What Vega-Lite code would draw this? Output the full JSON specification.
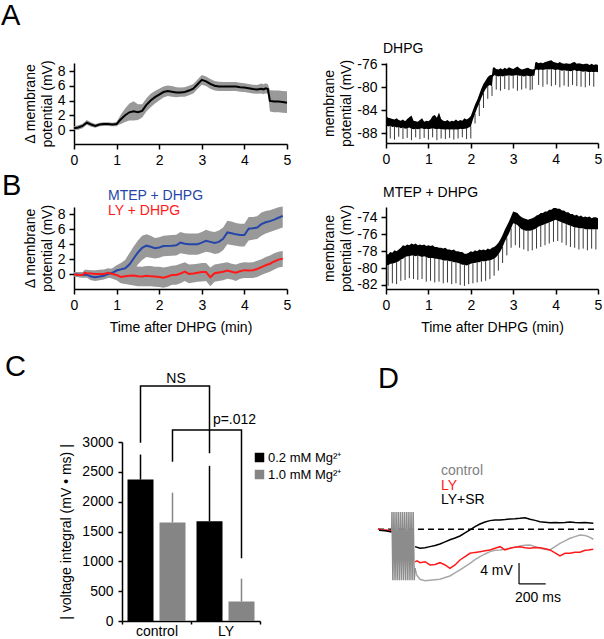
{
  "$schema": "https://vega.github.io/schema/vega-lite/v6.json",
  "autosize": {"type": "none"},
  "padding": {"left": 74, "top": 63, "right": 530, "bottom": 576},
  "background": "white",
  "config": {
    "font": "Liberation Sans",
    "view": {"stroke": null},
    "axis": {"domainColor": "#000", "domainWidth": 1.5, "tickColor": "#000", "tickWidth": 1.5, "tickSize": 5, "labelColor": "#000", "labelFontSize": 14, "labelPadding": 4, "labelFlush": false, "labelOverlap": false, "labelSeparation": 0, "titleColor": "#000", "titleFontSize": 14, "titleFontWeight": "normal", "grid": false, "titleLineHeight": 17},
    "axisY": {"labelOverlap": false},
    "axisQuantitative": {"labelOverlap": false},
    "title": {"fontWeight": "normal", "color": "#000", "anchor": "start", "frame": "group", "offset": 0, "baseline": "alphabetic", "fontSize": 29},
    "legend": {"labelFontSize": 14, "padding": 0}
  },
  "columns": 2,
  "align": "each",
  "bounds": "flush",
  "spacing": {"row": 63, "column": 99},
  "resolve": {"scale": {"color": "independent"}, "legend": {"color": "independent"}},
  "datasets": {
    "aMean": [
      {"t":0,"m":0.25,"lo":0.0,"hi":0.5},{"t":0.1,"m":0.35,"lo":0.05,"hi":0.65},{"t":0.2,"m":0.55,"lo":0.25,"hi":0.85},{"t":0.3,"m":1.0,"lo":0.7,"hi":1.35},{"t":0.4,"m":0.75,"lo":0.45,"hi":1.05},{"t":0.5,"m":0.55,"lo":0.3,"hi":0.8},{"t":0.6,"m":0.75,"lo":0.5,"hi":1.0},{"t":0.7,"m":0.8,"lo":0.55,"hi":1.05},{"t":0.8,"m":0.8,"lo":0.55,"hi":1.05},{"t":0.9,"m":0.75,"lo":0.5,"hi":1.0},{"t":1.0,"m":0.8,"lo":0.5,"hi":1.1},{"t":1.05,"m":1.15,"lo":0.7,"hi":1.6},{"t":1.1,"m":1.45,"lo":0.8,"hi":2.1},{"t":1.2,"m":2.0,"lo":1.1,"hi":2.9},{"t":1.3,"m":2.4,"lo":1.3,"hi":3.6},{"t":1.4,"m":2.55,"lo":1.3,"hi":3.9},{"t":1.5,"m":2.4,"lo":1.35,"hi":3.5},{"t":1.6,"m":2.6,"lo":1.7,"hi":3.5},{"t":1.7,"m":3.4,"lo":2.5,"hi":4.3},{"t":1.8,"m":4.0,"lo":3.1,"hi":4.9},{"t":1.9,"m":4.45,"lo":3.6,"hi":5.3},{"t":2.0,"m":4.8,"lo":4.0,"hi":5.6},{"t":2.1,"m":5.15,"lo":4.4,"hi":5.9},{"t":2.2,"m":5.3,"lo":4.6,"hi":6.05},{"t":2.3,"m":5.2,"lo":4.5,"hi":5.95},{"t":2.4,"m":5.1,"lo":4.45,"hi":5.8},{"t":2.5,"m":5.1,"lo":4.5,"hi":5.75},{"t":2.6,"m":5.15,"lo":4.5,"hi":5.8},{"t":2.7,"m":5.35,"lo":4.7,"hi":6.0},{"t":2.8,"m":5.6,"lo":4.95,"hi":6.25},{"t":2.9,"m":6.2,"lo":5.55,"hi":6.85},{"t":3.0,"m":6.8,"lo":6.15,"hi":7.45},{"t":3.1,"m":6.6,"lo":5.95,"hi":7.25},{"t":3.2,"m":6.25,"lo":5.6,"hi":6.9},{"t":3.3,"m":6.0,"lo":5.35,"hi":6.65},{"t":3.4,"m":5.9,"lo":5.3,"hi":6.55},{"t":3.5,"m":5.9,"lo":5.3,"hi":6.5},{"t":3.6,"m":5.9,"lo":5.3,"hi":6.5},{"t":3.7,"m":5.9,"lo":5.3,"hi":6.5},{"t":3.8,"m":5.9,"lo":5.3,"hi":6.5},{"t":3.9,"m":5.8,"lo":5.2,"hi":6.4},{"t":4.0,"m":5.75,"lo":5.15,"hi":6.35},{"t":4.1,"m":5.65,"lo":5.05,"hi":6.25},{"t":4.2,"m":5.55,"lo":4.95,"hi":6.15},{"t":4.3,"m":5.5,"lo":4.9,"hi":6.1},{"t":4.4,"m":5.6,"lo":4.95,"hi":6.3},{"t":4.45,"m":5.5,"lo":4.85,"hi":6.2},{"t":4.5,"m":5.65,"lo":5.0,"hi":6.35},{"t":4.55,"m":5.55,"lo":4.9,"hi":6.2},{"t":4.6,"m":3.95,"lo":2.5,"hi":5.4},{"t":4.7,"m":3.85,"lo":2.4,"hi":5.35},{"t":4.8,"m":3.85,"lo":2.4,"hi":5.35},{"t":4.9,"m":3.8,"lo":2.35,"hi":5.3},{"t":5.0,"m":3.7,"lo":2.3,"hi":5.25}
    ],
    "aTrace": [
      {"t":0,"lo":-86.6,"hi":-85.0},{"t":0.05,"lo":-86.8,"hi":-85.3},{"t":0.1,"lo":-86.7,"hi":-85.4},{"t":0.15,"lo":-86.9,"hi":-85.5},{"t":0.2,"lo":-86.8,"hi":-85.6},{"t":0.25,"lo":-87.0,"hi":-85.4},{"t":0.3,"lo":-86.9,"hi":-85.7},{"t":0.35,"lo":-87.1,"hi":-85.8},{"t":0.4,"lo":-87.0,"hi":-85.6},{"t":0.45,"lo":-87.2,"hi":-85.9},{"t":0.5,"lo":-87.1,"hi":-85.5},{"t":0.55,"lo":-87.0,"hi":-85.2},{"t":0.6,"lo":-87.2,"hi":-84.9},{"t":0.65,"lo":-87.3,"hi":-85.8},{"t":0.7,"lo":-87.2,"hi":-85.9},{"t":0.75,"lo":-87.3,"hi":-86.0},{"t":0.8,"lo":-87.2,"hi":-85.7},{"t":0.85,"lo":-87.1,"hi":-85.4},{"t":0.9,"lo":-87.3,"hi":-86.0},{"t":0.95,"lo":-87.2,"hi":-85.8},{"t":1.0,"lo":-87.3,"hi":-85.9},{"t":1.05,"lo":-87.2,"hi":-85.6},{"t":1.1,"lo":-87.1,"hi":-85.0},{"t":1.15,"lo":-87.2,"hi":-84.8},{"t":1.2,"lo":-87.3,"hi":-85.3},{"t":1.25,"lo":-87.2,"hi":-84.4},{"t":1.3,"lo":-87.3,"hi":-85.5},{"t":1.35,"lo":-87.3,"hi":-85.8},{"t":1.4,"lo":-87.4,"hi":-85.9},{"t":1.45,"lo":-87.3,"hi":-85.7},{"t":1.5,"lo":-87.4,"hi":-86.0},{"t":1.55,"lo":-87.3,"hi":-85.8},{"t":1.6,"lo":-87.4,"hi":-85.9},{"t":1.65,"lo":-87.3,"hi":-85.6},{"t":1.7,"lo":-87.4,"hi":-85.9},{"t":1.75,"lo":-87.2,"hi":-85.7},{"t":1.8,"lo":-87.3,"hi":-85.8},{"t":1.85,"lo":-87.2,"hi":-85.4},{"t":1.9,"lo":-87.2,"hi":-85.6},{"t":1.95,"lo":-87.0,"hi":-85.4},{"t":2.0,"lo":-86.8,"hi":-85.0},{"t":2.05,"lo":-85.6,"hi":-84.0},{"t":2.1,"lo":-84.6,"hi":-83.0},{"t":2.15,"lo":-83.6,"hi":-82.2},{"t":2.2,"lo":-82.8,"hi":-81.2},{"t":2.25,"lo":-81.8,"hi":-80.2},{"t":2.3,"lo":-81.0,"hi":-79.4},{"t":2.35,"lo":-80.3,"hi":-78.8},{"t":2.4,"lo":-79.8,"hi":-78.2},{"t":2.45,"lo":-79.6,"hi":-77.9},{"t":2.5,"lo":-79.8,"hi":-77.8},{"t":2.52,"lo":-78.2,"hi":-76.6},{"t":2.55,"lo":-77.9,"hi":-76.5},{"t":2.6,"lo":-78.0,"hi":-76.8},{"t":2.65,"lo":-78.1,"hi":-76.9},{"t":2.7,"lo":-78.0,"hi":-76.7},{"t":2.75,"lo":-78.1,"hi":-76.9},{"t":2.8,"lo":-78.0,"hi":-76.6},{"t":2.85,"lo":-78.0,"hi":-76.8},{"t":2.9,"lo":-77.9,"hi":-76.5},{"t":2.95,"lo":-78.0,"hi":-76.7},{"t":3.0,"lo":-78.0,"hi":-76.8},{"t":3.05,"lo":-77.9,"hi":-76.6},{"t":3.1,"lo":-77.9,"hi":-76.4},{"t":3.15,"lo":-78.0,"hi":-76.7},{"t":3.2,"lo":-78.0,"hi":-76.9},{"t":3.25,"lo":-78.1,"hi":-76.8},{"t":3.3,"lo":-78.0,"hi":-76.7},{"t":3.35,"lo":-78.0,"hi":-76.6},{"t":3.4,"lo":-78.1,"hi":-76.8},{"t":3.45,"lo":-78.0,"hi":-76.9},{"t":3.5,"lo":-78.0,"hi":-76.8},{"t":3.52,"lo":-77.0,"hi":-75.7},{"t":3.55,"lo":-76.9,"hi":-75.6},{"t":3.6,"lo":-77.0,"hi":-75.8},{"t":3.65,"lo":-76.9,"hi":-75.7},{"t":3.7,"lo":-77.0,"hi":-75.8},{"t":3.75,"lo":-76.9,"hi":-75.6},{"t":3.8,"lo":-76.8,"hi":-75.5},{"t":3.85,"lo":-76.9,"hi":-75.4},{"t":3.9,"lo":-76.8,"hi":-75.3},{"t":3.95,"lo":-76.9,"hi":-75.6},{"t":4.0,"lo":-77.0,"hi":-75.7},{"t":4.05,"lo":-76.9,"hi":-75.8},{"t":4.1,"lo":-77.0,"hi":-75.6},{"t":4.15,"lo":-77.1,"hi":-75.8},{"t":4.2,"lo":-77.0,"hi":-75.9},{"t":4.25,"lo":-77.1,"hi":-75.8},{"t":4.3,"lo":-77.1,"hi":-75.9},{"t":4.35,"lo":-77.2,"hi":-75.9},{"t":4.4,"lo":-77.1,"hi":-75.7},{"t":4.45,"lo":-77.0,"hi":-75.6},{"t":4.5,"lo":-77.2,"hi":-75.9},{"t":4.55,"lo":-77.1,"hi":-75.8},{"t":4.6,"lo":-77.2,"hi":-75.9},{"t":4.65,"lo":-77.3,"hi":-76.0},{"t":4.7,"lo":-77.2,"hi":-75.9},{"t":4.75,"lo":-77.3,"hi":-75.9},{"t":4.8,"lo":-77.4,"hi":-76.1},{"t":4.85,"lo":-77.3,"hi":-75.9},{"t":4.9,"lo":-77.4,"hi":-76.1},{"t":4.95,"lo":-77.3,"hi":-76.0},{"t":5.0,"lo":-77.4,"hi":-76.1}
    ],
    "aSpikes": [
      {"t":0.1,"top":-86.7,"bot":-88.9},{"t":0.2,"top":-86.8,"bot":-89.1},{"t":0.3,"top":-86.9,"bot":-88.6},{"t":0.4,"top":-87.0,"bot":-89.0},{"t":0.5,"top":-87.1,"bot":-88.8},{"t":0.6,"top":-87.2,"bot":-89.2},{"t":0.7,"top":-87.2,"bot":-88.7},{"t":0.8,"top":-87.2,"bot":-89.0},{"t":0.9,"top":-87.3,"bot":-88.8},{"t":1.0,"top":-87.3,"bot":-89.1},{"t":1.1,"top":-87.1,"bot":-88.7},{"t":1.2,"top":-87.3,"bot":-89.2},{"t":1.3,"top":-87.3,"bot":-88.9},{"t":1.4,"top":-87.4,"bot":-89.0},{"t":1.5,"top":-87.4,"bot":-88.8},{"t":1.6,"top":-87.4,"bot":-89.1},{"t":1.7,"top":-87.4,"bot":-88.9},{"t":1.8,"top":-87.3,"bot":-88.7},{"t":1.9,"top":-87.2,"bot":-89.0},{"t":2.0,"top":-86.8,"bot":-88.9},{"t":2.1,"top":-84.6,"bot":-86.3},{"t":2.2,"top":-82.8,"bot":-85.0},{"t":2.3,"top":-81.0,"bot":-83.6},{"t":2.4,"top":-79.8,"bot":-82.0},{"t":2.5,"top":-79.8,"bot":-81.5},{"t":2.6,"top":-78.0,"bot":-80.4},{"t":2.7,"top":-78.0,"bot":-80.6},{"t":2.8,"top":-78.0,"bot":-80.3},{"t":2.9,"top":-77.9,"bot":-80.5},{"t":3.0,"top":-78.0,"bot":-80.2},{"t":3.1,"top":-77.9,"bot":-80.6},{"t":3.2,"top":-78.0,"bot":-80.4},{"t":3.3,"top":-78.0,"bot":-80.2},{"t":3.4,"top":-78.1,"bot":-80.5},{"t":3.45,"top":-78.0,"bot":-80.4},{"t":3.6,"top":-77.0,"bot":-79.6},{"t":3.7,"top":-77.0,"bot":-79.9},{"t":3.8,"top":-76.8,"bot":-79.5},{"t":3.9,"top":-76.8,"bot":-79.8},{"t":4.0,"top":-77.0,"bot":-79.6},{"t":4.1,"top":-77.0,"bot":-80.0},{"t":4.2,"top":-77.0,"bot":-79.7},{"t":4.3,"top":-77.1,"bot":-79.9},{"t":4.4,"top":-77.1,"bot":-79.6},{"t":4.5,"top":-77.2,"bot":-79.8},{"t":4.6,"top":-77.2,"bot":-79.9},{"t":4.7,"top":-77.2,"bot":-80.0},{"t":4.8,"top":-77.4,"bot":-79.7},{"t":4.9,"top":-77.4,"bot":-79.9}
    ],
    "bMean": [
      {"series":"MTEP + DHPG","t":0.0,"m":0.0,"lo":-0.3,"hi":0.3},{"series":"MTEP + DHPG","t":0.2,"m":-0.1,"lo":-0.45,"hi":0.3},{"series":"MTEP + DHPG","t":0.3,"m":-0.05,"lo":-0.45,"hi":0.45},{"series":"MTEP + DHPG","t":0.4,"m":-0.3,"lo":-0.8,"hi":0.2},{"series":"MTEP + DHPG","t":0.5,"m":-0.4,"lo":-0.9,"hi":0.1},{"series":"MTEP + DHPG","t":0.6,"m":-0.3,"lo":-0.8,"hi":0.2},{"series":"MTEP + DHPG","t":0.7,"m":-0.2,"lo":-0.7,"hi":0.3},{"series":"MTEP + DHPG","t":0.8,"m":0.05,"lo":-0.5,"hi":0.6},{"series":"MTEP + DHPG","t":0.9,"m":0.2,"lo":-0.4,"hi":0.8},{"series":"MTEP + DHPG","t":1.0,"m":0.5,"lo":-0.2,"hi":1.2},{"series":"MTEP + DHPG","t":1.1,"m":0.65,"lo":-0.2,"hi":1.5},{"series":"MTEP + DHPG","t":1.2,"m":0.8,"lo":-0.3,"hi":1.9},{"series":"MTEP + DHPG","t":1.3,"m":1.3,"lo":-0.2,"hi":2.8},{"series":"MTEP + DHPG","t":1.4,"m":2.1,"lo":0.5,"hi":3.7},{"series":"MTEP + DHPG","t":1.5,"m":2.9,"lo":1.3,"hi":4.5},{"series":"MTEP + DHPG","t":1.6,"m":3.5,"lo":1.9,"hi":5.1},{"series":"MTEP + DHPG","t":1.7,"m":3.8,"lo":2.3,"hi":5.3},{"series":"MTEP + DHPG","t":1.8,"m":3.65,"lo":2.2,"hi":5.1},{"series":"MTEP + DHPG","t":1.9,"m":3.45,"lo":2.1,"hi":4.8},{"series":"MTEP + DHPG","t":2.0,"m":3.55,"lo":2.2,"hi":4.9},{"series":"MTEP + DHPG","t":2.1,"m":3.75,"lo":2.4,"hi":5.1},{"series":"MTEP + DHPG","t":2.3,"m":3.8,"lo":2.45,"hi":5.2},{"series":"MTEP + DHPG","t":2.4,"m":3.85,"lo":2.5,"hi":5.25},{"series":"MTEP + DHPG","t":2.5,"m":4.2,"lo":2.8,"hi":5.6},{"series":"MTEP + DHPG","t":2.6,"m":4.05,"lo":2.7,"hi":5.45},{"series":"MTEP + DHPG","t":2.7,"m":4.0,"lo":2.6,"hi":5.4},{"series":"MTEP + DHPG","t":2.9,"m":4.0,"lo":2.6,"hi":5.4},{"series":"MTEP + DHPG","t":3.0,"m":4.2,"lo":2.8,"hi":5.6},{"series":"MTEP + DHPG","t":3.1,"m":4.45,"lo":3.0,"hi":5.9},{"series":"MTEP + DHPG","t":3.2,"m":4.3,"lo":2.9,"hi":5.7},{"series":"MTEP + DHPG","t":3.3,"m":4.15,"lo":2.7,"hi":5.6},{"series":"MTEP + DHPG","t":3.4,"m":4.3,"lo":2.8,"hi":5.8},{"series":"MTEP + DHPG","t":3.5,"m":4.7,"lo":3.2,"hi":6.2},{"series":"MTEP + DHPG","t":3.6,"m":5.55,"lo":4.0,"hi":7.1},{"series":"MTEP + DHPG","t":3.7,"m":5.45,"lo":3.9,"hi":7.0},{"series":"MTEP + DHPG","t":3.8,"m":5.3,"lo":3.8,"hi":6.8},{"series":"MTEP + DHPG","t":3.9,"m":5.2,"lo":3.7,"hi":6.7},{"series":"MTEP + DHPG","t":4.0,"m":5.2,"lo":3.7,"hi":6.7},{"series":"MTEP + DHPG","t":4.1,"m":6.05,"lo":4.5,"hi":7.6},{"series":"MTEP + DHPG","t":4.2,"m":6.1,"lo":4.6,"hi":7.6},{"series":"MTEP + DHPG","t":4.3,"m":6.2,"lo":4.7,"hi":7.7},{"series":"MTEP + DHPG","t":4.4,"m":6.65,"lo":5.1,"hi":8.2},{"series":"MTEP + DHPG","t":4.5,"m":6.9,"lo":5.4,"hi":8.4},{"series":"MTEP + DHPG","t":4.6,"m":7.05,"lo":5.6,"hi":8.5},{"series":"MTEP + DHPG","t":4.7,"m":7.25,"lo":5.8,"hi":8.7},{"series":"MTEP + DHPG","t":4.8,"m":7.5,"lo":6.0,"hi":8.9},{"series":"MTEP + DHPG","t":4.9,"m":7.75,"lo":6.2,"hi":9.0},
      {"series":"LY + DHPG","t":0.0,"m":0.0,"lo":-0.3,"hi":0.3},{"series":"LY + DHPG","t":0.1,"m":-0.1,"lo":-0.4,"hi":0.2},{"series":"LY + DHPG","t":0.2,"m":-0.1,"lo":-0.4,"hi":0.25},{"series":"LY + DHPG","t":0.25,"m":0.2,"lo":-0.2,"hi":0.6},{"series":"LY + DHPG","t":0.3,"m":0.15,"lo":-0.25,"hi":0.6},{"series":"LY + DHPG","t":0.4,"m":0.1,"lo":-0.35,"hi":0.55},{"series":"LY + DHPG","t":0.5,"m":0.05,"lo":-0.45,"hi":0.55},{"series":"LY + DHPG","t":0.6,"m":0.05,"lo":-0.5,"hi":0.6},{"series":"LY + DHPG","t":0.7,"m":0.05,"lo":-0.55,"hi":0.65},{"series":"LY + DHPG","t":0.8,"m":0.2,"lo":-0.4,"hi":0.8},{"series":"LY + DHPG","t":0.9,"m":0.05,"lo":-0.6,"hi":0.7},{"series":"LY + DHPG","t":1.0,"m":-0.1,"lo":-0.8,"hi":0.6},{"series":"LY + DHPG","t":1.1,"m":-0.35,"lo":-1.2,"hi":0.5},{"series":"LY + DHPG","t":1.2,"m":-0.25,"lo":-1.3,"hi":0.8},{"series":"LY + DHPG","t":1.3,"m":-0.2,"lo":-1.4,"hi":1.0},{"series":"LY + DHPG","t":1.4,"m":-0.15,"lo":-1.5,"hi":1.1},{"series":"LY + DHPG","t":1.5,"m":-0.25,"lo":-1.6,"hi":1.05},{"series":"LY + DHPG","t":1.6,"m":-0.3,"lo":-1.6,"hi":1.0},{"series":"LY + DHPG","t":1.7,"m":-0.2,"lo":-1.6,"hi":1.1},{"series":"LY + DHPG","t":1.8,"m":-0.25,"lo":-1.6,"hi":1.1},{"series":"LY + DHPG","t":1.9,"m":-0.3,"lo":-1.65,"hi":1.0},{"series":"LY + DHPG","t":2.0,"m":-0.35,"lo":-1.7,"hi":1.0},{"series":"LY + DHPG","t":2.1,"m":-0.45,"lo":-1.8,"hi":0.9},{"series":"LY + DHPG","t":2.2,"m":-0.3,"lo":-1.65,"hi":1.0},{"series":"LY + DHPG","t":2.3,"m":-0.1,"lo":-1.4,"hi":1.15},{"series":"LY + DHPG","t":2.4,"m":-0.1,"lo":-1.4,"hi":1.2},{"series":"LY + DHPG","t":2.5,"m":0.1,"lo":-1.2,"hi":1.4},{"series":"LY + DHPG","t":2.6,"m":0.35,"lo":-0.9,"hi":1.6},{"series":"LY + DHPG","t":2.7,"m":0.05,"lo":-1.2,"hi":1.3},{"series":"LY + DHPG","t":2.8,"m":0.1,"lo":-1.1,"hi":1.35},{"series":"LY + DHPG","t":2.9,"m":0.2,"lo":-1.0,"hi":1.4},{"series":"LY + DHPG","t":3.0,"m":0.3,"lo":-0.95,"hi":1.5},{"series":"LY + DHPG","t":3.1,"m":0.3,"lo":-0.9,"hi":1.5},{"series":"LY + DHPG","t":3.2,"m":-0.4,"lo":-1.6,"hi":0.9},{"series":"LY + DHPG","t":3.3,"m":0.15,"lo":-1.0,"hi":1.3},{"series":"LY + DHPG","t":3.4,"m":0.25,"lo":-0.9,"hi":1.4},{"series":"LY + DHPG","t":3.5,"m":0.35,"lo":-0.8,"hi":1.5},{"series":"LY + DHPG","t":3.6,"m":0.5,"lo":-0.6,"hi":1.6},{"series":"LY + DHPG","t":3.7,"m":0.35,"lo":-0.7,"hi":1.4},{"series":"LY + DHPG","t":3.8,"m":0.2,"lo":-0.9,"hi":1.3},{"series":"LY + DHPG","t":3.9,"m":0.4,"lo":-0.6,"hi":1.5},{"series":"LY + DHPG","t":4.0,"m":0.55,"lo":-0.5,"hi":1.6},{"series":"LY + DHPG","t":4.1,"m":0.5,"lo":-0.5,"hi":1.55},{"series":"LY + DHPG","t":4.2,"m":0.55,"lo":-0.5,"hi":1.6},{"series":"LY + DHPG","t":4.3,"m":0.7,"lo":-0.35,"hi":1.8},{"series":"LY + DHPG","t":4.4,"m":0.95,"lo":-0.1,"hi":2.0},{"series":"LY + DHPG","t":4.5,"m":1.2,"lo":0.15,"hi":2.3},{"series":"LY + DHPG","t":4.6,"m":1.4,"lo":0.35,"hi":2.5},{"series":"LY + DHPG","t":4.7,"m":1.7,"lo":0.65,"hi":2.8},{"series":"LY + DHPG","t":4.8,"m":1.95,"lo":0.9,"hi":3.0},{"series":"LY + DHPG","t":4.9,"m":2.05,"lo":1.0,"hi":3.1}
    ],
    "bTrace": [
      {"t":0.0,"lo":-79.6,"hi":-78.3},{"t":0.05,"lo":-79.7,"hi":-78.4},{"t":0.1,"lo":-79.5,"hi":-78.1},{"t":0.15,"lo":-79.5,"hi":-78.2},{"t":0.2,"lo":-79.4,"hi":-77.9},{"t":0.25,"lo":-79.3,"hi":-78.0},{"t":0.3,"lo":-79.2,"hi":-77.8},{"t":0.35,"lo":-79.0,"hi":-77.6},{"t":0.4,"lo":-78.9,"hi":-77.3},{"t":0.45,"lo":-78.7,"hi":-77.4},{"t":0.5,"lo":-78.6,"hi":-77.2},{"t":0.55,"lo":-78.6,"hi":-77.3},{"t":0.6,"lo":-78.5,"hi":-77.1},{"t":0.65,"lo":-78.5,"hi":-77.2},{"t":0.7,"lo":-78.6,"hi":-77.1},{"t":0.75,"lo":-78.5,"hi":-77.3},{"t":0.8,"lo":-78.6,"hi":-77.2},{"t":0.85,"lo":-78.7,"hi":-77.3},{"t":0.9,"lo":-78.6,"hi":-77.2},{"t":0.95,"lo":-78.7,"hi":-77.4},{"t":1.0,"lo":-78.8,"hi":-77.3},{"t":1.05,"lo":-78.8,"hi":-77.4},{"t":1.1,"lo":-78.8,"hi":-77.3},{"t":1.15,"lo":-78.9,"hi":-77.5},{"t":1.2,"lo":-78.9,"hi":-77.5},{"t":1.25,"lo":-79.0,"hi":-77.6},{"t":1.3,"lo":-79.0,"hi":-77.6},{"t":1.35,"lo":-79.1,"hi":-77.7},{"t":1.4,"lo":-79.1,"hi":-77.6},{"t":1.45,"lo":-79.1,"hi":-77.8},{"t":1.5,"lo":-79.2,"hi":-77.8},{"t":1.55,"lo":-79.2,"hi":-77.9},{"t":1.6,"lo":-79.3,"hi":-77.8},{"t":1.65,"lo":-79.3,"hi":-78.0},{"t":1.7,"lo":-79.4,"hi":-78.0},{"t":1.75,"lo":-79.5,"hi":-78.1},{"t":1.8,"lo":-79.6,"hi":-78.1},{"t":1.85,"lo":-79.6,"hi":-78.3},{"t":1.9,"lo":-79.7,"hi":-78.3},{"t":1.95,"lo":-79.6,"hi":-78.2},{"t":2.0,"lo":-79.5,"hi":-78.0},{"t":2.05,"lo":-79.4,"hi":-78.1},{"t":2.1,"lo":-79.4,"hi":-77.9},{"t":2.15,"lo":-79.3,"hi":-78.0},{"t":2.2,"lo":-79.3,"hi":-77.8},{"t":2.25,"lo":-79.2,"hi":-77.9},{"t":2.3,"lo":-79.2,"hi":-77.8},{"t":2.35,"lo":-79.2,"hi":-77.9},{"t":2.4,"lo":-79.1,"hi":-77.7},{"t":2.45,"lo":-79.1,"hi":-77.8},{"t":2.5,"lo":-79.0,"hi":-77.6},{"t":2.55,"lo":-78.9,"hi":-77.5},{"t":2.6,"lo":-78.7,"hi":-77.3},{"t":2.65,"lo":-78.4,"hi":-77.0},{"t":2.7,"lo":-78.0,"hi":-76.6},{"t":2.75,"lo":-77.5,"hi":-76.1},{"t":2.8,"lo":-76.9,"hi":-75.5},{"t":2.85,"lo":-76.4,"hi":-75.0},{"t":2.9,"lo":-75.9,"hi":-74.5},{"t":2.95,"lo":-75.3,"hi":-73.9},{"t":3.0,"lo":-74.7,"hi":-73.3},{"t":3.05,"lo":-74.8,"hi":-73.4},{"t":3.1,"lo":-74.9,"hi":-73.5},{"t":3.15,"lo":-75.2,"hi":-73.8},{"t":3.2,"lo":-75.4,"hi":-74.0},{"t":3.25,"lo":-75.5,"hi":-74.1},{"t":3.3,"lo":-75.6,"hi":-74.2},{"t":3.35,"lo":-75.6,"hi":-74.3},{"t":3.4,"lo":-75.6,"hi":-74.2},{"t":3.45,"lo":-75.5,"hi":-74.1},{"t":3.5,"lo":-75.4,"hi":-74.0},{"t":3.55,"lo":-75.3,"hi":-73.8},{"t":3.6,"lo":-75.1,"hi":-73.7},{"t":3.65,"lo":-75.0,"hi":-73.5},{"t":3.7,"lo":-74.9,"hi":-73.5},{"t":3.75,"lo":-74.8,"hi":-73.3},{"t":3.8,"lo":-74.7,"hi":-73.3},{"t":3.85,"lo":-74.6,"hi":-73.1},{"t":3.9,"lo":-74.5,"hi":-73.1},{"t":3.95,"lo":-74.4,"hi":-72.9},{"t":4.0,"lo":-74.3,"hi":-72.9},{"t":4.05,"lo":-74.4,"hi":-73.0},{"t":4.1,"lo":-74.5,"hi":-73.0},{"t":4.15,"lo":-74.6,"hi":-73.2},{"t":4.2,"lo":-74.7,"hi":-73.2},{"t":4.25,"lo":-74.8,"hi":-73.4},{"t":4.3,"lo":-74.9,"hi":-73.4},{"t":4.35,"lo":-75.0,"hi":-73.6},{"t":4.4,"lo":-75.1,"hi":-73.6},{"t":4.45,"lo":-75.2,"hi":-73.8},{"t":4.5,"lo":-75.2,"hi":-73.7},{"t":4.55,"lo":-75.3,"hi":-73.9},{"t":4.6,"lo":-75.3,"hi":-73.8},{"t":4.65,"lo":-75.3,"hi":-74.0},{"t":4.7,"lo":-75.4,"hi":-73.9},{"t":4.75,"lo":-75.4,"hi":-74.0},{"t":4.8,"lo":-75.4,"hi":-73.9},{"t":4.85,"lo":-75.4,"hi":-74.1},{"t":4.9,"lo":-75.4,"hi":-74.0},{"t":4.95,"lo":-75.4,"hi":-74.0},{"t":5.0,"lo":-75.4,"hi":-74.1}
    ],
    "bSpikes": [
      {"t":0.05,"top":-79.7,"bot":-82.1},{"t":0.15,"top":-79.5,"bot":-81.8},{"t":0.25,"top":-79.3,"bot":-81.9},{"t":0.35,"top":-79.0,"bot":-81.5},{"t":0.45,"top":-78.7,"bot":-81.4},{"t":0.55,"top":-78.6,"bot":-81.2},{"t":0.65,"top":-78.5,"bot":-81.3},{"t":0.75,"top":-78.5,"bot":-81.4},{"t":0.85,"top":-78.7,"bot":-81.3},{"t":0.95,"top":-78.7,"bot":-81.6},{"t":1.05,"top":-78.8,"bot":-81.5},{"t":1.15,"top":-78.9,"bot":-81.7},{"t":1.25,"top":-79.0,"bot":-81.6},{"t":1.35,"top":-79.1,"bot":-81.8},{"t":1.45,"top":-79.1,"bot":-81.7},{"t":1.55,"top":-79.2,"bot":-81.9},{"t":1.65,"top":-79.3,"bot":-81.8},{"t":1.75,"top":-79.5,"bot":-82.0},{"t":1.85,"top":-79.6,"bot":-82.1},{"t":1.95,"top":-79.6,"bot":-81.9},{"t":2.05,"top":-79.4,"bot":-81.8},{"t":2.15,"top":-79.3,"bot":-81.7},{"t":2.25,"top":-79.2,"bot":-81.6},{"t":2.35,"top":-79.2,"bot":-81.5},{"t":2.45,"top":-79.1,"bot":-81.3},{"t":2.55,"top":-78.9,"bot":-80.9},{"t":2.65,"top":-78.4,"bot":-80.3},{"t":2.75,"top":-77.5,"bot":-79.4},{"t":2.85,"top":-76.4,"bot":-78.5},{"t":2.95,"top":-75.3,"bot":-77.6},{"t":3.05,"top":-74.8,"bot":-77.3},{"t":3.15,"top":-75.2,"bot":-77.6},{"t":3.25,"top":-75.5,"bot":-77.8},{"t":3.35,"top":-75.6,"bot":-78.0},{"t":3.45,"top":-75.5,"bot":-77.9},{"t":3.55,"top":-75.3,"bot":-77.7},{"t":3.65,"top":-75.0,"bot":-77.5},{"t":3.75,"top":-74.8,"bot":-77.3},{"t":3.85,"top":-74.6,"bot":-77.1},{"t":3.95,"top":-74.4,"bot":-76.9},{"t":4.05,"top":-74.4,"bot":-76.8},{"t":4.15,"top":-74.6,"bot":-77.0},{"t":4.25,"top":-74.8,"bot":-77.3},{"t":4.35,"top":-75.0,"bot":-77.5},{"t":4.45,"top":-75.2,"bot":-77.6},{"t":4.55,"top":-75.3,"bot":-77.8},{"t":4.65,"top":-75.3,"bot":-77.7},{"t":4.75,"top":-75.4,"bot":-77.9},{"t":4.85,"top":-75.4,"bot":-77.7},{"t":4.95,"top":-75.4,"bot":-77.8}
    ],
    "cBars": [
      {"group":"control","cond":"0.2 mM Mg²⁺","value":2370,"err":2790},
      {"group":"control","cond":"1.0 mM Mg²⁺","value":1650,"err":2150},
      {"group":"LY","cond":"0.2 mM Mg²⁺","value":1670,"err":2600},
      {"group":"LY","cond":"1.0 mM Mg²⁺","value":325,"err":710}
    ],
    "cBrackets": [
      {"bracket":"NS","ord":1,"group":"control","cond":"0.2 mM Mg²⁺","y":2988},
      {"bracket":"NS","ord":2,"group":"control","cond":"0.2 mM Mg²⁺","y":3938},
      {"bracket":"NS","ord":3,"group":"LY","cond":"0.2 mM Mg²⁺","y":3938},
      {"bracket":"NS","ord":4,"group":"LY","cond":"0.2 mM Mg²⁺","y":2811},
      {"bracket":"p","ord":1,"group":"control","cond":"1.0 mM Mg²⁺","y":2670},
      {"bracket":"p","ord":2,"group":"control","cond":"1.0 mM Mg²⁺","y":3201},
      {"bracket":"p","ord":3,"group":"LY","cond":"1.0 mM Mg²⁺","y":3201},
      {"bracket":"p","ord":4,"group":"LY","cond":"1.0 mM Mg²⁺","y":1051}
    ],
    "cNS": [{"group":"control","cond":"1.0 mM Mg²⁺","y":3994,"label":"NS"}],
    "cP": [{"group":"LY","cond":"1.0 mM Mg²⁺","y":3297,"label":"p=.012"}],
    "dBase": [{"t0":-103,"t1":1525,"v":0}],
    "dTraces": [
      {"series":"control","seg":"pre","t":-103,"v":0.0},{"series":"control","seg":"pre","t":-60,"v":-0.1},{"series":"control","seg":"pre","t":-20,"v":-0.2},{"series":"control","seg":"pre","t":0,"v":-0.3},
      {"series":"LY","seg":"pre","t":-103,"v":0.1},{"series":"LY","seg":"pre","t":-85,"v":-0.1},{"series":"LY","seg":"pre","t":-40,"v":-0.2},{"series":"LY","seg":"pre","t":0,"v":-0.3},
      {"series":"LY+SR","seg":"pre","t":-95,"v":-0.2},{"series":"LY+SR","seg":"pre","t":-50,"v":-0.3},{"series":"LY+SR","seg":"pre","t":-10,"v":-0.45},{"series":"LY+SR","seg":"pre","t":0,"v":-0.5},
      {"series":"control","seg":"post","t":175,"v":-7.43},{"series":"control","seg":"post","t":187,"v":-8.7},{"series":"control","seg":"post","t":212,"v":-9.52},{"series":"control","seg":"post","t":250,"v":-9.78},{"series":"control","seg":"post","t":287,"v":-9.7},{"series":"control","seg":"post","t":325,"v":-9.6},{"series":"control","seg":"post","t":362,"v":-9.52},{"series":"control","seg":"post","t":400,"v":-9.2},{"series":"control","seg":"post","t":437,"v":-8.9},{"series":"control","seg":"post","t":475,"v":-8.3},{"series":"control","seg":"post","t":512,"v":-7.75},{"series":"control","seg":"post","t":550,"v":-7.1},{"series":"control","seg":"post","t":587,"v":-6.48},{"series":"control","seg":"post","t":625,"v":-5.8},{"series":"control","seg":"post","t":662,"v":-5.21},{"series":"control","seg":"post","t":700,"v":-4.7},{"series":"control","seg":"post","t":737,"v":-4.26},{"series":"control","seg":"post","t":775,"v":-4.0},{"series":"control","seg":"post","t":812,"v":-3.94},{"series":"control","seg":"post","t":850,"v":-3.8},{"series":"control","seg":"post","t":887,"v":-3.62},{"series":"control","seg":"post","t":925,"v":-3.4},{"series":"control","seg":"post","t":962,"v":-3.18},{"series":"control","seg":"post","t":1000,"v":-3.05},{"series":"control","seg":"post","t":1037,"v":-2.99},{"series":"control","seg":"post","t":1075,"v":-3.3},{"series":"control","seg":"post","t":1112,"v":-3.62},{"series":"control","seg":"post","t":1150,"v":-3.8},{"series":"control","seg":"post","t":1187,"v":-3.94},{"series":"control","seg":"post","t":1225,"v":-3.3},{"series":"control","seg":"post","t":1262,"v":-2.67},{"series":"control","seg":"post","t":1300,"v":-2.2},{"series":"control","seg":"post","t":1337,"v":-1.71},{"series":"control","seg":"post","t":1375,"v":-1.4},{"series":"control","seg":"post","t":1412,"v":-1.09},{"series":"control","seg":"post","t":1450,"v":-1.2},{"series":"control","seg":"post","t":1475,"v":-1.4},{"series":"control","seg":"post","t":1512,"v":-1.9},
      {"series":"LY","seg":"post","t":175,"v":-6.2},{"series":"LY","seg":"post","t":190,"v":-6.0},{"series":"LY","seg":"post","t":212,"v":-6.36},{"series":"LY","seg":"post","t":250,"v":-6.17},{"series":"LY","seg":"post","t":287,"v":-6.8},{"series":"LY","seg":"post","t":325,"v":-6.7},{"series":"LY","seg":"post","t":362,"v":-6.36},{"series":"LY","seg":"post","t":400,"v":-6.8},{"series":"LY","seg":"post","t":437,"v":-7.43},{"series":"LY","seg":"post","t":475,"v":-6.8},{"series":"LY","seg":"post","t":512,"v":-5.85},{"series":"LY","seg":"post","t":550,"v":-5.21},{"series":"LY","seg":"post","t":587,"v":-4.57},{"series":"LY","seg":"post","t":625,"v":-4.4},{"series":"LY","seg":"post","t":662,"v":-4.26},{"series":"LY","seg":"post","t":700,"v":-4.1},{"series":"LY","seg":"post","t":737,"v":-3.94},{"series":"LY","seg":"post","t":775,"v":-3.6},{"series":"LY","seg":"post","t":812,"v":-3.31},{"series":"LY","seg":"post","t":850,"v":-3.94},{"series":"LY","seg":"post","t":887,"v":-3.62},{"series":"LY","seg":"post","t":925,"v":-3.4},{"series":"LY","seg":"post","t":962,"v":-3.31},{"series":"LY","seg":"post","t":1000,"v":-3.5},{"series":"LY","seg":"post","t":1037,"v":-3.62},{"series":"LY","seg":"post","t":1075,"v":-3.45},{"series":"LY","seg":"post","t":1112,"v":-3.5},{"series":"LY","seg":"post","t":1150,"v":-3.7},{"series":"LY","seg":"post","t":1187,"v":-3.94},{"series":"LY","seg":"post","t":1225,"v":-4.5},{"series":"LY","seg":"post","t":1262,"v":-5.09},{"series":"LY","seg":"post","t":1300,"v":-4.57},{"series":"LY","seg":"post","t":1337,"v":-4.57},{"series":"LY","seg":"post","t":1375,"v":-4.38},{"series":"LY","seg":"post","t":1412,"v":-4.38},{"series":"LY","seg":"post","t":1450,"v":-4.0},{"series":"LY","seg":"post","t":1475,"v":-3.94},{"series":"LY","seg":"post","t":1512,"v":-3.81},
      {"series":"LY+SR","seg":"post","t":175,"v":-3.3},{"series":"LY+SR","seg":"post","t":212,"v":-3.6},{"series":"LY+SR","seg":"post","t":250,"v":-3.5},{"series":"LY+SR","seg":"post","t":287,"v":-3.3},{"series":"LY+SR","seg":"post","t":325,"v":-3.1},{"series":"LY+SR","seg":"post","t":362,"v":-2.8},{"series":"LY+SR","seg":"post","t":400,"v":-2.4},{"series":"LY+SR","seg":"post","t":437,"v":-2.0},{"series":"LY+SR","seg":"post","t":475,"v":-1.65},{"series":"LY+SR","seg":"post","t":512,"v":-1.28},{"series":"LY+SR","seg":"post","t":550,"v":-0.7},{"series":"LY+SR","seg":"post","t":587,"v":-0.13},{"series":"LY+SR","seg":"post","t":625,"v":0.5},{"series":"LY+SR","seg":"post","t":662,"v":1.0},{"series":"LY+SR","seg":"post","t":700,"v":1.4},{"series":"LY+SR","seg":"post","t":737,"v":1.65},{"series":"LY+SR","seg":"post","t":775,"v":1.75},{"series":"LY+SR","seg":"post","t":812,"v":1.77},{"series":"LY+SR","seg":"post","t":850,"v":1.85},{"series":"LY+SR","seg":"post","t":887,"v":1.96},{"series":"LY+SR","seg":"post","t":925,"v":2.0},{"series":"LY+SR","seg":"post","t":962,"v":2.09},{"series":"LY+SR","seg":"post","t":1000,"v":2.21},{"series":"LY+SR","seg":"post","t":1037,"v":1.9},{"series":"LY+SR","seg":"post","t":1075,"v":1.7},{"series":"LY+SR","seg":"post","t":1112,"v":1.45},{"series":"LY+SR","seg":"post","t":1150,"v":1.35},{"series":"LY+SR","seg":"post","t":1187,"v":1.26},{"series":"LY+SR","seg":"post","t":1225,"v":1.3},{"series":"LY+SR","seg":"post","t":1262,"v":1.26},{"series":"LY+SR","seg":"post","t":1300,"v":1.3},{"series":"LY+SR","seg":"post","t":1337,"v":1.39},{"series":"LY+SR","seg":"post","t":1375,"v":1.3},{"series":"LY+SR","seg":"post","t":1412,"v":1.26},{"series":"LY+SR","seg":"post","t":1450,"v":1.3},{"series":"LY+SR","seg":"post","t":1512,"v":1.14}
    ],
    "dStim": [
      {"t":0,"v":-0.3},{"t":2,"v":3.3},{"t":9,"v":-9.7},{"t":17,"v":3.3},{"t":25,"v":-9.7},{"t":33,"v":3.3},{"t":41,"v":-9.7},{"t":49,"v":3.3},{"t":57,"v":-9.7},{"t":65,"v":3.3},{"t":73,"v":-9.7},{"t":81,"v":3.3},{"t":89,"v":-9.7},{"t":97,"v":3.3},{"t":105,"v":-9.7},{"t":113,"v":3.3},{"t":121,"v":-9.7},{"t":129,"v":3.3},{"t":137,"v":-9.7},{"t":145,"v":3.3},{"t":153,"v":-9.7},{"t":161,"v":3.3},{"t":169,"v":-9.7},{"t":175,"v":-7.4}
    ],
    "dScale": [
      {"x":955,"x2":955,"y":-10.4,"y2":-6.4},
      {"x":955,"x2":1155,"y":-10.4,"y2":-10.4}
    ],
    "dScaleText": [
      {"x":786,"y":-8.7,"label":"4 mV"},
      {"x":1097,"y":-13.8,"label":"200 ms"}
    ]
  },
  "concat": [
    {
      "width": 213, "height": 81,
      "title": {"text": "A", "dx": -73, "dy": -25},
      "data": {"name": "aMean"},
      "encoding": {
        "x": {"field": "t", "type": "quantitative", "scale": {"domain": [0, 5], "nice": false, "zero": false}, "axis": {"values": [0,1,2,3,4,5], "title": null, "labelOverlap": false}}
      },
      "layer": [
        {"mark": {"type": "area", "color": "#999999"},
         "encoding": {
           "y": {"field": "lo", "type": "quantitative", "scale": {"domain": [-1.898, 9.085], "nice": false, "zero": false}, "axis": {"values": [0,2,4,6,8], "labelOverlap": false, "labelSeparation": 0, "title": ["Δ membrane", "potential (mV)"], "titlePadding": 3}},
           "y2": {"field": "hi"}}},
        {"mark": {"type": "line", "color": "#000000", "strokeWidth": 2},
         "encoding": {"y": {"field": "m", "type": "quantitative", "axis": {"values": [0,2,4,6,8], "labelOverlap": false, "labelSeparation": 0, "title": ["Δ membrane", "potential (mV)"], "titlePadding": 3}}}}
      ]
    },
    {
      "width": 212, "height": 80,
      "title": {"text": "DHPG", "fontSize": 14, "dx": -3, "dy": 3.2},
      "encoding": {
        "x": {"field": "t", "type": "quantitative", "scale": {"domain": [0, 5], "nice": false, "zero": false}, "axis": {"values": [0,1,2,3,4,5], "title": null, "labelOverlap": false}}
      },
      "layer": [
        {"data": {"name": "aSpikes"}, "mark": {"type": "rule", "color": "#3a3a3a", "strokeWidth": 1},
         "encoding": {
           "y": {"field": "top", "type": "quantitative", "scale": {"domain": [-89.687, -75.774], "nice": false, "zero": false}, "axis": {"values": [-88,-84,-80,-76], "labelOverlap": false, "labelSeparation": 0, "labelExpr": "'' + datum.value", "title": ["membrane", "potential (mV)"], "titlePadding": 3}},
           "y2": {"field": "bot"}}},
        {"data": {"name": "aTrace"}, "mark": {"type": "area", "color": "#000000"},
         "encoding": {"y": {"field": "lo", "type": "quantitative", "axis": {"values": [-88,-84,-80,-76], "labelOverlap": false, "labelSeparation": 0, "labelExpr": "'' + datum.value", "title": ["membrane", "potential (mV)"], "titlePadding": 3}}, "y2": {"field": "hi"}}}
      ]
    },
    {
      "width": 213, "height": 82,
      "title": {"text": "B", "dx": -72, "dy": 16},
      "data": {"name": "bMean"},
      "encoding": {
        "x": {"field": "t", "type": "quantitative", "scale": {"domain": [0, 5], "nice": false, "zero": false}, "axis": {"values": [0,1,2,3,4,5], "labelOverlap": false, "title": "Time after DHPG (min)", "titlePadding": 8}}
      },
      "layer": [
        {"mark": {"type": "area", "color": "#999999"},
         "encoding": {
           "y": {"field": "lo", "type": "quantitative", "scale": {"domain": [-1.95, 8.929], "nice": false, "zero": false}, "axis": {"values": [0,2,4,6,8], "labelOverlap": false, "labelSeparation": 0, "title": ["Δ membrane", "potential (mV)"], "titlePadding": 3}},
           "y2": {"field": "hi"},
           "detail": {"field": "series"}}},
        {"mark": {"type": "line", "strokeWidth": 2},
         "encoding": {
           "y": {"field": "m", "type": "quantitative", "axis": {"values": [0,2,4,6,8], "labelOverlap": false, "labelSeparation": 0, "title": ["Δ membrane", "potential (mV)"], "titlePadding": 3}},
           "color": {"field": "series", "type": "nominal", "scale": {"domain": ["MTEP + DHPG", "LY + DHPG"], "range": ["#2546a8", "#ff1a1a"]},
             "legend": {"orient": "none", "legendX": 20, "legendY": -18, "title": null, "symbolSize": 0, "symbolOpacity": 0, "symbolStrokeWidth": 0, "labelOffset": 0, "labelFontSize": 14, "rowPadding": 1, "padding": 0,
               "encode": {"labels": {"update": {"fill": {"signal": "datum.label === 'LY + DHPG' ? '#ff1a1a' : '#2546a8'"}}}}}}}}
      ]
    },
    {
      "width": 212, "height": 82,
      "title": {"text": "MTEP + DHPG", "fontSize": 14, "dx": -3, "dy": 0},
      "encoding": {
        "x": {"field": "t", "type": "quantitative", "scale": {"domain": [0, 5], "nice": false, "zero": false}, "axis": {"values": [0,1,2,3,4,5], "labelOverlap": false, "title": "Time after DHPG (min)", "titlePadding": 8}}
      },
      "layer": [
        {"data": {"name": "bSpikes"}, "mark": {"type": "rule", "color": "#3a3a3a", "strokeWidth": 1},
         "encoding": {
           "y": {"field": "top", "type": "quantitative", "scale": {"domain": [-82.473, -72.783], "nice": false, "zero": false}, "axis": {"values": [-82,-80,-78,-76,-74], "labelOverlap": false, "labelSeparation": 0, "labelExpr": "'' + datum.value", "title": ["membrane", "potential (mV)"], "titlePadding": 3}},
           "y2": {"field": "bot"}}},
        {"data": {"name": "bTrace"}, "mark": {"type": "area", "color": "#000000"},
         "encoding": {"y": {"field": "lo", "type": "quantitative", "axis": {"values": [-82,-80,-78,-76,-74], "labelOverlap": false, "labelSeparation": 0, "labelExpr": "'' + datum.value", "title": ["membrane", "potential (mV)"], "titlePadding": 3}}, "y2": {"field": "hi"}}}
      ]
    },
    {
      "width": 186, "height": 269,
      "title": {"text": "C", "dx": -69, "dy": 34},
      "layer": [
        {"data": {"name": "cBars"}, "mark": {"type": "bar"},
         "encoding": {
           "x": {"field": "group", "type": "nominal", "scale": {"domain": ["control", "LY"], "range": [48, 186], "paddingInner": 0, "paddingOuter": 0}, "axis": {"title": null, "labelAngle": 0, "tickBand": "extent", "tickSize": 3, "labelPadding": 0}},
           "xOffset": {"field": "cond", "type": "nominal", "scale": {"domain": ["0.2 mM Mg²⁺", "1.0 mM Mg²⁺"], "paddingInner": 0.1875, "paddingOuter": 0.172}},
           "y": {"field": "value", "type": "quantitative", "scale": {"domain": [0, 3000], "range": [269, 90], "nice": false, "zero": false}, "axis": {"values": [0,500,1000,1500,2000,2500,3000], "labelOverlap": false, "labelExpr": "'' + datum.value", "offset": -48, "tickSize": 4, "labelPadding": 5, "title": "| voltage integral (mV • ms) |", "titlePadding": 8}},
           "color": {"field": "cond", "type": "nominal", "scale": {"domain": ["0.2 mM Mg²⁺", "1.0 mM Mg²⁺"], "range": ["#000000", "#858585"]},
             "legend": {"orient": "none", "legendX": 179, "legendY": 99, "title": null, "symbolType": "square", "symbolSize": 90, "symbolStrokeWidth": 0, "labelFontSize": 13, "labelOffset": 2, "rowPadding": 3, "padding": 0}}}},
        {"data": {"name": "cBars"}, "mark": {"type": "rule", "strokeWidth": 1.5},
         "encoding": {
           "x": {"field": "group", "type": "nominal"},
           "xOffset": {"field": "cond", "type": "nominal"},
           "y": {"field": "value", "type": "quantitative"},
           "y2": {"field": "err"},
           "color": {"field": "cond", "type": "nominal", "legend": null}}},
        {"data": {"name": "cBrackets"}, "mark": {"type": "line", "color": "#000000", "strokeWidth": 1.5},
         "encoding": {
           "x": {"field": "group", "type": "nominal"},
           "xOffset": {"field": "cond", "type": "nominal"},
           "y": {"field": "y", "type": "quantitative"},
           "detail": {"field": "bracket"},
           "order": {"field": "ord", "type": "quantitative"}}},
        {"data": {"name": "cNS"}, "mark": {"type": "text", "fontSize": 14, "baseline": "alphabetic", "align": "center", "dx": 3.5, "color": "#000000"},
         "encoding": {"x": {"field": "group", "type": "nominal"}, "xOffset": {"field": "cond", "type": "nominal"}, "y": {"field": "y", "type": "quantitative"}, "text": {"field": "label"}}},
        {"data": {"name": "cP"}, "mark": {"type": "text", "fontSize": 14, "baseline": "alphabetic", "align": "left", "dx": -28.6, "color": "#000000"},
         "encoding": {"x": {"field": "group", "type": "nominal"}, "xOffset": {"field": "cond", "type": "nominal"}, "y": {"field": "y", "type": "quantitative"}, "text": {"field": "label"}}}
      ]
    },
    {
      "width": 212, "height": 269,
      "title": {"text": "D", "dx": -8, "dy": 46},
      "layer": [
        {"data": {"name": "dBase"}, "mark": {"type": "rule", "color": "#000000", "strokeWidth": 1.5, "strokeDash": [6, 4]},
         "encoding": {
           "x": {"field": "t0", "type": "quantitative", "scale": {"domain": [-42.75, 1547.25], "nice": false, "zero": false}, "axis": null},
           "x2": {"field": "t1"},
           "y": {"field": "v", "type": "quantitative", "scale": {"domain": [-17.47, 33.77], "nice": false, "zero": false}, "axis": null}}},
        {"data": {"name": "dTraces"}, "mark": {"type": "line", "strokeWidth": 1.5},
         "encoding": {
           "x": {"field": "t", "type": "quantitative"},
           "y": {"field": "v", "type": "quantitative"},
           "detail": {"field": "seg"},
           "color": {"field": "series", "type": "nominal", "scale": {"domain": ["control", "LY", "LY+SR"], "range": ["#a8a8a8", "#ff1a1a", "#000000"]},
             "legend": {"orient": "none", "legendX": 41, "legendY": 112, "title": null, "symbolSize": 0, "symbolOpacity": 0, "symbolStrokeWidth": 0, "labelOffset": 0, "labelFontSize": 14, "rowPadding": 0.5, "padding": 0,
               "encode": {"labels": {"update": {"fill": {"signal": "datum.label === 'LY' ? '#ff1a1a' : datum.label === 'control' ? '#808080' : '#000000'"}}}}}}}},
        {"data": {"name": "dStim"}, "mark": {"type": "line", "color": "#8c8c8c", "strokeWidth": 1.5},
         "encoding": {"x": {"field": "t", "type": "quantitative"}, "y": {"field": "v", "type": "quantitative"}}},
        {"data": {"name": "dScale"}, "mark": {"type": "rule", "color": "#000000", "strokeWidth": 1.2},
         "encoding": {"x": {"field": "x", "type": "quantitative"}, "x2": {"field": "x2"}, "y": {"field": "y", "type": "quantitative"}, "y2": {"field": "y2"}}},
        {"data": {"name": "dScaleText"}, "mark": {"type": "text", "fontSize": 14, "baseline": "alphabetic", "align": "center", "color": "#000000"},
         "encoding": {"x": {"field": "x", "type": "quantitative"}, "y": {"field": "y", "type": "quantitative"}, "text": {"field": "label"}}}
      ]
    }
  ]
}
